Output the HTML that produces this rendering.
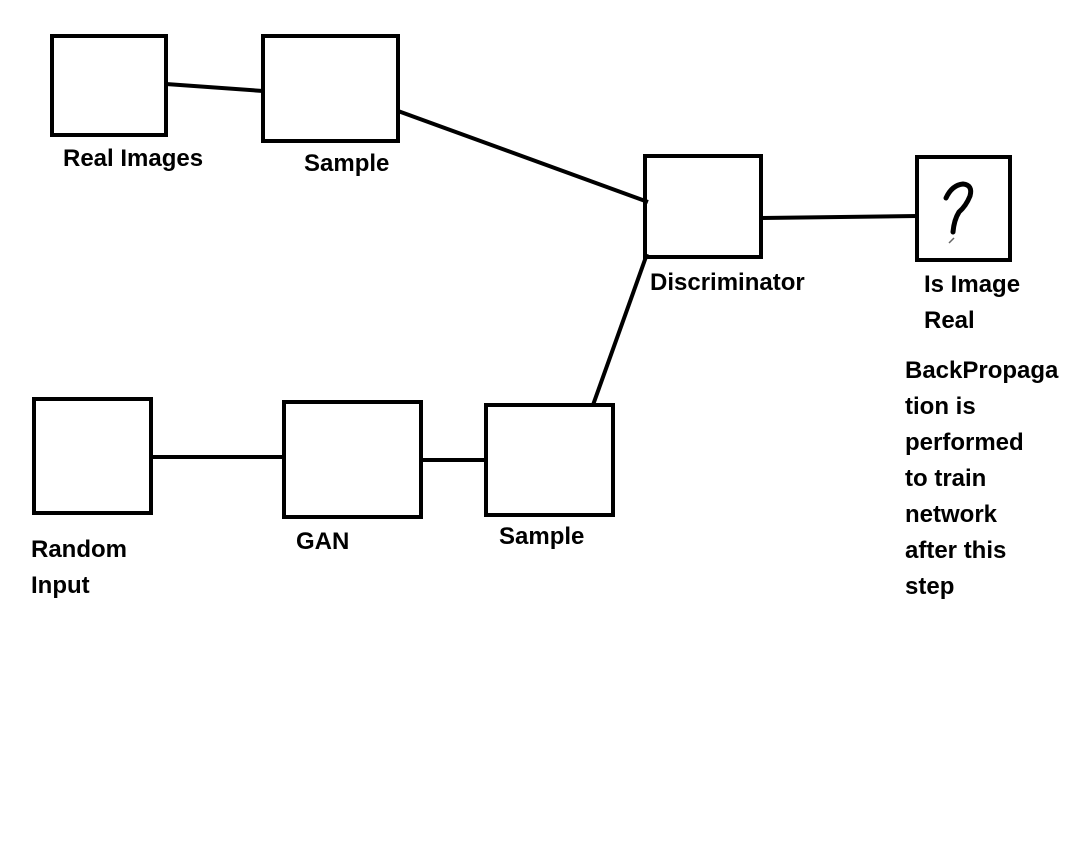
<!DOCTYPE html>
<html><head><style>
html,body{margin:0;padding:0;background:#fff;}
svg{display:block;}
text{font-family:"Liberation Sans",sans-serif;font-weight:bold;font-size:24px;fill:#000;}
</style></head><body>
<svg width="1066" height="856" viewBox="0 0 1066 856" xmlns="http://www.w3.org/2000/svg">
<g fill="none" stroke="#000" stroke-width="4">
<rect x="52" y="36" width="114" height="99"/>
<rect x="263" y="36" width="135" height="105"/>
<rect x="645" y="156" width="116" height="101"/>
<rect x="917" y="157" width="93" height="103"/>
<rect x="34" y="399" width="117" height="114"/>
<rect x="284" y="402" width="137" height="115"/>
<rect x="486" y="405" width="127" height="110"/>
<line x1="166" y1="84" x2="263" y2="91"/>
<line x1="398" y1="111" x2="648" y2="202"/>
<line x1="761" y1="218" x2="917" y2="216"/>
<line x1="151" y1="457" x2="284" y2="457"/>
<line x1="421" y1="460" x2="486" y2="460"/>
<line x1="593" y1="405" x2="647" y2="254"/>
</g>
<path d="M946 198 Q952 185 963 184 Q973 185 970 196 Q966 206 959 212 Q954 220 953 232" fill="none" stroke="#000" stroke-width="5" stroke-linecap="round"/>
<line x1="949" y1="243" x2="954" y2="238" stroke="#666" stroke-width="1.5"/>
<text x="63" y="166">Real Images</text>
<text x="304" y="171">Sample</text>
<text x="650" y="290">Discriminator</text>
<text x="924" y="292">Is Image</text>
<text x="924" y="328">Real</text>
<text x="905" y="378">BackPropaga</text>
<text x="905" y="414">tion is</text>
<text x="905" y="450">performed</text>
<text x="905" y="486">to train</text>
<text x="905" y="522">network</text>
<text x="905" y="558">after this</text>
<text x="905" y="594">step</text>
<text x="31" y="557">Random</text>
<text x="31" y="593">Input</text>
<text x="296" y="549">GAN</text>
<text x="499" y="544">Sample</text>
</svg>
</body></html>
